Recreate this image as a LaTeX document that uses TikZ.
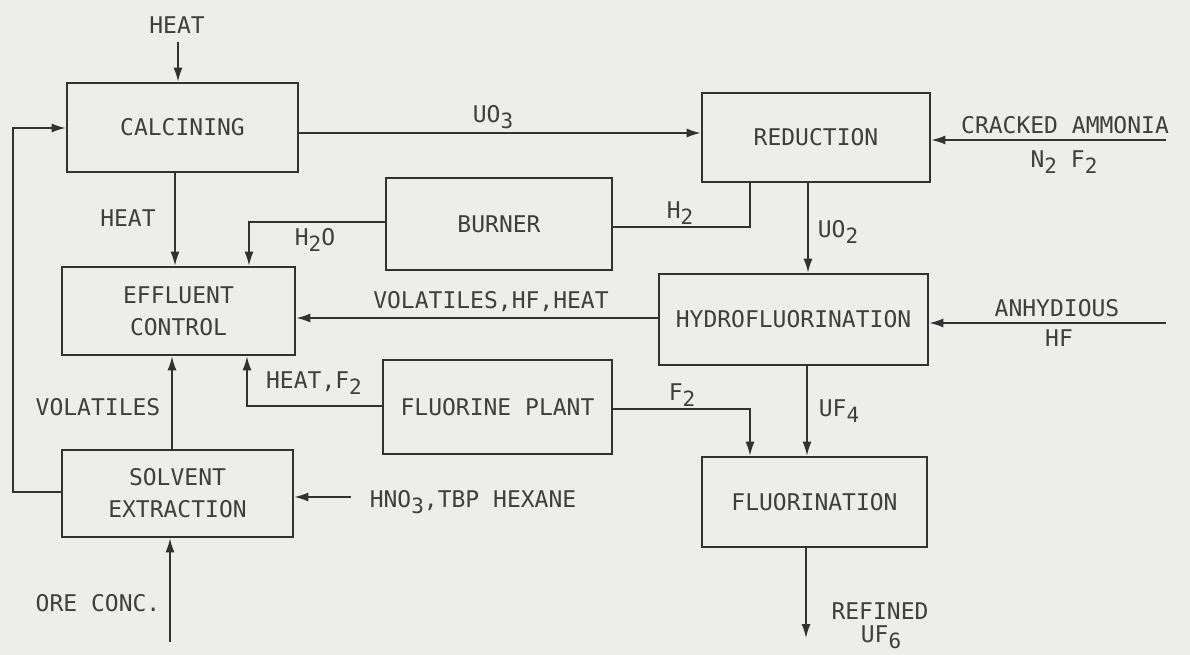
\documentclass[tikz,border=0pt]{standalone}
\usepackage{fontspec}
\setmainfont{DejaVu Sans Mono}
\usetikzlibrary{arrows.meta}
\definecolor{bg}{RGB}{237,237,235}
\definecolor{ln}{RGB}{50,50,50}
\definecolor{tx}{RGB}{62,62,62}
\newcommand{\sbs}[1]{\raisebox{-0.5ex}{\fontsize{21}{21}\selectfont #1}}
\begin{document}
\begin{tikzpicture}[x=1pt,y=-1pt,
  every node/.style={font=\fontsize{23}{32}\selectfont, text=tx},
  box/.style={draw=ln, line width=2.6pt, rectangle, align=center, inner sep=0pt},
  conn/.style={draw=ln, line width=1.6pt},
  arr/.style={conn, -{Latex[length=14pt,width=9pt]}},
  lbl/.style={inner sep=0pt, align=center}]
\fill[bg] (0,0) rectangle (1190,655);
\useasboundingbox (0,0) rectangle (1190,655);

% boxes
\node[box, minimum width=231pt, minimum height=89pt] (calc) at (182.5,127.5) {CALCINING};
\node[box, minimum width=228pt, minimum height=89pt] (red) at (816,137.5) {REDUCTION};
\node[box, minimum width=226pt, minimum height=92pt] (burner) at (499,224) {BURNER};
\node[box, minimum width=233pt, minimum height=88pt] (eff) at (178.5,311) {EFFLUENT\\CONTROL};
\node[box, minimum width=269pt, minimum height=91pt] (hydro) at (793.5,319.5) {HYDROFLUORINATION};
\node[box, minimum width=229pt, minimum height=94pt] (fplant) at (497.5,407) {FLUORINE PLANT};
\node[box, minimum width=231pt, minimum height=87pt] (solv) at (177.5,493.5) {SOLVENT\\EXTRACTION};
\node[box, minimum width=225pt, minimum height=90pt] (fluor) at (814.5,502) {FLUORINATION};

% helper coordinates
\coordinate (hin) at (178,42);
\coordinate (uo3y) at (0,133);
\coordinate (ca) at (1166,140);
\coordinate (h2c) at (750,227);
\coordinate (h2oc) at (249,222);
\coordinate (hx) at (175,0);
\coordinate (uo2x) at (808,0);
\coordinate (vy) at (0,318);
\coordinate (ahf) at (1166,323);
\coordinate (hfc) at (247,406);
\coordinate (f2c) at (750,409);
\coordinate (uf4x) at (807,0);
\coordinate (ref) at (806,638);
\coordinate (volx) at (172,0);
\coordinate (lp1) at (13,492);
\coordinate (lp2) at (13,128);
\coordinate (hn) at (351,497);
\coordinate (ore) at (170,642);

% connectors
\draw[arr] (hin) -- (hin |- calc.north);
\draw[arr] (calc.east |- uo3y) -- (red.west |- uo3y);
\draw[arr] (ca) -- (red.east |- ca);
\draw[conn] (burner.east |- h2c) -- (h2c) -- (h2c |- red.south);
\draw[arr] (burner.west |- h2oc) -- (h2oc) -- (h2oc |- eff.north);
\draw[arr] (calc.south -| hx) -- (eff.north -| hx);
\draw[arr] (red.south -| uo2x) -- (hydro.north -| uo2x);
\draw[arr] (hydro.west |- vy) -- (eff.east |- vy);
\draw[arr] (ahf) -- (hydro.east |- ahf);
\draw[arr] (fplant.west |- hfc) -- (hfc) -- (hfc |- eff.south);
\draw[arr] (fplant.east |- f2c) -- (f2c) -- (f2c |- fluor.north);
\draw[arr] (hydro.south -| uf4x) -- (fluor.north -| uf4x);
\draw[arr] (fluor.south -| ref) -- (ref);
\draw[arr] (solv.north -| volx) -- (eff.south -| volx);
\draw[arr] (solv.west |- lp1) -- (lp1) -- (lp2) -- (calc.west |- lp2);
\draw[arr] (hn) -- (solv.east |- hn);
\draw[arr] (ore) -- (solv.south -| ore);

% labels
\node[lbl] (l1) at (177,25) {HEAT};
\node[lbl] (l2) at (493,117) {UO\sbs{3}};
\node[lbl] (l3) at (680,213) {H\sbs{2}};
\node[lbl] (l4) at (315,240) {H\sbs{2}O};
\node[lbl] (l5) at (128,218) {HEAT};
\node[lbl] (l6) at (838,232) {UO\sbs{2}};
\node[lbl] (l7) at (1065,125) {CRACKED AMMONIA};
\node[lbl] (l8) at (1064,162) {N\sbs{2} F\sbs{2}};
\node[lbl] (l9) at (491,302) {VOLATILES,HF,HEAT};
\node[lbl] (l10) at (1057,308) {ANHYDIOUS};
\node[lbl] (l11) at (1059,338) {HF};
\node[lbl] (l12) at (314,383) {HEAT,F\sbs{2}};
\node[lbl] (l13) at (682,395) {F\sbs{2}};
\node[lbl] (l14) at (839,411) {UF\sbs{4}};
\node[lbl] (l15) at (98,407) {VOLATILES};
\node[lbl] (l16) at (473,502) {HNO\sbs{3},TBP HEXANE};
\node[lbl] (l17) at (98,603) {ORE CONC.};
\node[lbl] (l18) at (880,611) {REFINED};
\node[lbl] (l19) at (881,637) {UF\sbs{6}};
\end{tikzpicture}
\end{document}
